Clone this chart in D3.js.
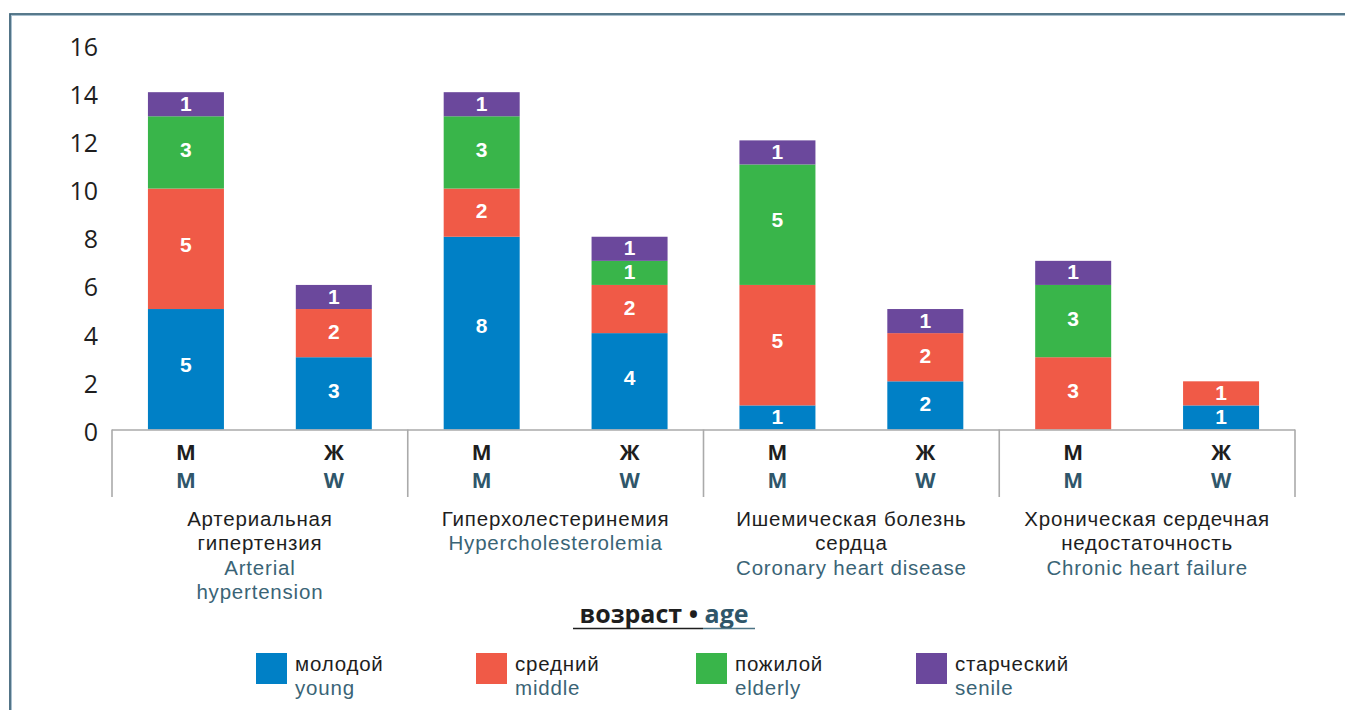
<!DOCTYPE html>
<html>
<head>
<meta charset="utf-8">
<script src="https://cdn.jsdelivr.net/npm/d3@7"></script>
<style>
  html, body { margin: 0; padding: 0; background: #fff; }
  svg { display: block; }
  text { font-family: "Open Sans", "Noto Sans", sans-serif; }
  .tight { font-family: "Liberation Sans", Arial, sans-serif; }
</style>
</head>
<body>
<svg id="chart" width="1345" height="710"></svg>
<script>
// ---- data ----
const categoriesRu = [["Артериальная", "гипертензия"], ["Гиперхолестеринемия"], ["Ишемическая болезнь", "сердца"], ["Хроническая сердечная", "недостаточность"]];
const categoriesEn = [["Arterial", "hypertension"], ["Hypercholesterolemia"], ["Coronary heart disease"], ["Chronic heart failure"]];
const sexesRu = ["М", "Ж"];
const sexesEn = ["M", "W"];
const ageGroupsRu = ["молодой", "средний", "пожилой", "старческий"];
const ageGroupsEn = ["young", "middle", "elderly", "senile"];
// values per bar in order: [cat][sex] for each age group
const young   = [[5, 3], [8, 4], [1, 2], [0, 1]];
const middle  = [[5, 2], [2, 2], [5, 2], [3, 1]];
const elderly = [[3, 0], [3, 1], [5, 0], [3, 0]];
const senile  = [[1, 1], [1, 1], [1, 1], [1, 0]];
const yTicks = [0, 2, 4, 6, 8, 10, 12, 14, 16];
const colors = ["#0080c6", "#f05a47", "#39b54a", "#6b489c"];
const titleRu = "возраст • ";
const titleEn = "age";

const series = [young, middle, elderly, senile];
const blueGray = "#2f566a";
const enGray = "#3a6476";
const dark = "#1e1e1e";

// ---- build rows ----
const rows = [];
categoriesRu.forEach((c, ci) => {
  sexesRu.forEach((s, si) => {
    const row = { cat: ci, sex: si };
    series.forEach((ser, k) => row["a" + k] = ser[ci][si]);
    rows.push(row);
  });
});
const keys = series.map((_, k) => "a" + k);
const stacked = d3.stack().keys(keys)(rows);

const svg = d3.select("#chart");

// frame
svg.append("path").attr("d", "M10.5,710 V14.5 H1345").attr("fill", "none").attr("stroke", "#a9c0cf").attr("stroke-width", 3);
svg.append("path").attr("d", "M10,710 V14 H1345").attr("fill", "none").attr("stroke", "#3d6176").attr("stroke-width", 1.6);

// scales
const x0 = d3.scaleBand().domain(d3.range(categoriesRu.length)).range([112, 1295]).padding(0);
const x1 = d3.scaleBand().domain(d3.range(sexesRu.length)).range([0, x0.bandwidth()]).paddingInner(0.486).paddingOuter(0.243);
const y = d3.scaleLinear().domain([0, 16]).range([429.5, 44]);

// y axis
const yAxis = svg.append("g").attr("transform", "translate(98,3)")
  .call(d3.axisLeft(y).tickValues(yTicks).tickSize(0).tickPadding(0));
yAxis.select(".domain").remove();
yAxis.selectAll("text").attr("font-size", 25).attr("fill", dark).attr("font-family", "Open Sans, sans-serif");

// bars
const barX = d => x0(d.data.cat) + x1(d.data.sex);
svg.append("g").selectAll("g").data(stacked).join("g")
  .attr("fill", (d, i) => colors[i])
  .selectAll("rect").data(d => d.filter(p => p[1] > p[0])).join("rect")
  .attr("x", barX)
  .attr("width", x1.bandwidth())
  .attr("y", d => y(d[1]))
  .attr("height", d => y(d[0]) - y(d[1]));

// bar labels
svg.append("g").selectAll("g").data(stacked).join("g")
  .selectAll("text").data(d => d.filter(p => p[1] > p[0])).join("text")
  .attr("class", "tight")
  .attr("x", d => barX(d) + x1.bandwidth() / 2)
  .attr("y", d => y(d[1]) + 0.46 * (y(d[0]) - y(d[1])))
  .attr("dy", "0.36em")
  .attr("text-anchor", "middle")
  .attr("font-size", 21).attr("font-weight", 700).attr("fill", "#fff")
  .text(d => d[1] - d[0]);

// baseline and dividers
svg.append("line").attr("x1", x0.range()[0]).attr("x2", x0.range()[1]).attr("y1", y(0) + 0.5).attr("y2", y(0) + 0.5)
  .attr("stroke", "#aaaaaa").attr("stroke-width", 1.6);
const divs = d3.range(categoriesRu.length + 1).map(i => i < categoriesRu.length ? x0(i) : x0.range()[1]);
svg.append("g").selectAll("line").data(divs).join("line")
  .attr("x1", d => d).attr("x2", d => d).attr("y1", y(0)).attr("y2", 497)
  .attr("stroke", "#aaaaaa").attr("stroke-width", 1.6);

// sex labels
const sexG = svg.append("g").selectAll("g").data(rows).join("g")
  .attr("transform", d => `translate(${x0(d.cat) + x1(d.sex) + x1.bandwidth() / 2},0)`);
sexG.append("text").attr("y", 460).attr("text-anchor", "middle").attr("font-size", 21).attr("font-weight", 700)
  .attr("fill", dark).text(d => sexesRu[d.sex]);
sexG.append("text").attr("y", 488).attr("text-anchor", "middle").attr("font-size", 21).attr("font-weight", 700)
  .attr("fill", blueGray).text(d => sexesEn[d.sex]);

// category labels
const catG = svg.append("g").selectAll("g").data(d3.range(categoriesRu.length)).join("g")
  .attr("transform", i => `translate(${x0(i) + x0.bandwidth() / 2},0)`);
catG.each(function (i) {
  const g = d3.select(this);
  const lines = categoriesRu[i].map(t => ({ t, c: dark })).concat(categoriesEn[i].map(t => ({ t, c: enGray })));
  lines.forEach((l, j) => {
    g.append("text").attr("class", "tight").attr("y", 526 + j * 24.4).attr("text-anchor", "middle")
      .attr("font-size", 20.5).attr("letter-spacing", 0.8)
      .attr("fill", l.c).text(l.t);
  });
});

// legend title
const title = svg.append("text").attr("x", 664).attr("y", 623).attr("text-anchor", "middle")
  .attr("font-size", 25).attr("font-weight", 700);
title.append("tspan").attr("fill", dark).text(titleRu);
title.append("tspan").attr("fill", blueGray).text(titleEn);
svg.append("line").attr("x1", 573).attr("x2", 703).attr("y1", 628.5).attr("y2", 628.5).attr("stroke", dark).attr("stroke-width", 1.5);
svg.append("line").attr("x1", 703).attr("x2", 755).attr("y1", 628.5).attr("y2", 628.5).attr("stroke", "#4d7385").attr("stroke-width", 1.5);

// legend items
const lx = d3.scalePoint().domain(d3.range(ageGroupsRu.length)).range([256, 916]);
const leg = svg.append("g").selectAll("g").data(d3.range(ageGroupsRu.length)).join("g")
  .attr("transform", i => `translate(${lx(i)},653)`);
leg.append("rect").attr("width", 31).attr("height", 31).attr("fill", i => colors[i]);
leg.append("text").attr("class", "tight").attr("x", 39).attr("y", 18).attr("font-size", 20.5).attr("letter-spacing", 0.8)
  .attr("fill", dark).text(i => ageGroupsRu[i]);
leg.append("text").attr("class", "tight").attr("x", 39).attr("y", 42).attr("font-size", 20.5).attr("letter-spacing", 0.8)
  .attr("fill", enGray).text(i => ageGroupsEn[i]);
</script>
</body>
</html>
